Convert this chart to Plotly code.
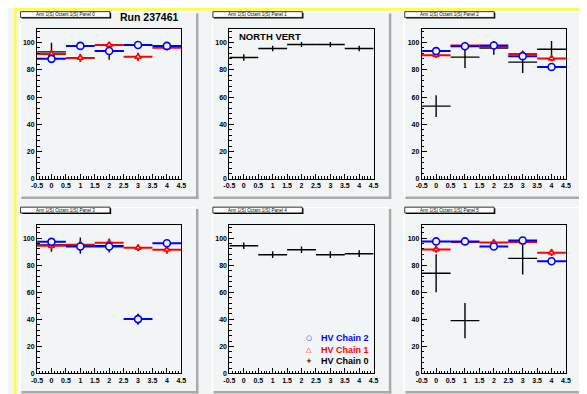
import plotly.graph_objects as go

# ---------------- data ----------------
bins = [0, 1, 2, 3, 4]
x_tickvals = [-0.5, 0, 0.5, 1, 1.5, 2, 2.5, 3, 3.5, 4, 4.5]
x_ticktext = ["-0.5", "0", "0.5", "1", "1.5", "2", "2.5", "3", "3.5", "4", "4.5"]
y_tickvals = [0, 20, 40, 60, 80, 100]
y_range = [0, 110]
x_range = [-0.5, 4.5]

panel_titles = ["Arm 1(S) Octant 1(S) Panel 0", "Arm 1(S) Octant 1(S) Panel 1",
                "Arm 1(S) Octant 1(S) Panel 2", "Arm 1(S) Octant 1(S) Panel 3",
                "Arm 1(S) Octant 1(S) Panel 4", "Arm 1(S) Octant 1(S) Panel 5"]
series_names = ["HV Chain 2", "HV Chain 1", "HV Chain 0"]
run_label = "Run 237461"
north_label = "NORTH VERT"

# HV Chain 0 (black), per panel
chain0_values = [
    [93.1, None, 93.8, None, None],
    [89.0, 95.6, 98.5, 98.5, 95.6],
    [53.4, 89.3, 96.0, 85.6, 95.1],
    [95.0, 94.5, 94.5, None, None],
    [94.4, 87.8, 91.5, 87.8, 88.5],
    [74.1, 39.1, None, 85.1, None],
]
chain0_errors = [
    [6.7, 0, 6.5, 0, 0],
    [2.3, 2.0, 1.8, 1.8, 2.0],
    [8.0, 8.0, 5.0, 8.0, 6.0],
    [5.0, 6.0, 5.0, 0, 0],
    [2.4, 2.5, 2.4, 2.5, 2.5],
    [14.0, 13.0, 0, 12.0, 0],
]
# HV Chain 1 (red)
chain1_values = [
    [91.6, 88.7, 98.2, 89.5, 96.2],
    None,
    [90.7, 97.8, 96.8, 91.5, 88.3],
    [94.4, 95.1, 96.6, 92.9, 91.5],
    None,
    [91.7, 97.1, 96.8, 97.1, 89.3],
]
chain1_errors = [
    [3.0, 3.0, 2.0, 3.0, 2.0],
    None,
    [2.0, 2.0, 2.0, 2.0, 2.0],
    [3.0, 3.0, 3.0, 2.5, 3.0],
    None,
    [2.5, 2.0, 2.0, 2.0, 2.5],
]
# HV Chain 2 (blue)
chain2_values = [
    [88.0, 97.5, 93.8, 98.2, 97.5],
    None,
    [93.7, 97.3, 97.8, 90.0, 82.0],
    [97.3, 93.9, 93.9, 40.2, 96.3],
    None,
    [97.6, 97.6, 93.9, 98.3, 82.9],
]
chain2_errors = [
    [3.0, 1.2, 3.0, 1.2, 2.0],
    None,
    [2.0, 2.0, 2.0, 2.0, 2.5],
    [2.0, 3.0, 3.0, 4.0, 2.0],
    None,
    [1.5, 1.5, 2.0, 1.5, 2.5],
]

# ---------------- style / layout ----------------
W, H = 587, 394
BG = "#f2f5f5"
FONT = "Liberation Sans, Arial, sans-serif"
col_x = [(23.5, 170.5), (219.5, 366.5), (415.5, 562.5)]
row_y = [(21.0, 172.3), (218.3, 368.3)]
pad_x = [(5.5, 188.0), (201.5, 384.5), (397.0, 580.5)]
pad_y = [(3.5, 192.5), (200.5, 388.5)]


def px(x):
    return x / W


def py(y):
    return 1 - y / H


half = (bins[1] - bins[0]) / 2.0

fig = go.Figure()
shapes = []
annotations = []


def rect(x0, y0, x1, y1, fill, line=None, lw=0):
    d = dict(type="rect", xref="paper", yref="paper", x0=px(x0), x1=px(x1),
             y0=py(y1), y1=py(y0), fillcolor=fill, layer="below",
             line=dict(width=lw, color=line or fill))
    shapes.append(d)


# canvas border
rect(0, 0, W, 2.5, "#ffff40")
rect(0, 0, 2.5, H, "#ffff40")
rect(0, H - 3, W, H, "#b4b400")
rect(W - 2.5, 2.5, W, H, "#b4b400")

for i in range(6):
    r, c = divmod(i, 3)
    ax = "" if i == 0 else str(i + 1)
    x0, x1 = pad_x[c]
    y0, y1 = pad_y[r]
    # pad bevel
    rect(x0, y0, x1 - 2, y0 + 1.3, "white")
    rect(x0, y0, x0 + 1.3, y1 - 2, "white")
    rect(x1 - 2.5, y0 + 2, x1, y1, "#a9a9a9")
    rect(x0 + 2, y1 - 2.5, x1, y1, "#a9a9a9")
    # title box with shadow
    shapes.append(dict(type="rect", xref="paper", yref="paper",
                       x0=px(x0 + 2.5), x1=px(x0 + 93.5), y0=py(y0 + 7.2), y1=py(y0 + 1.2),
                       fillcolor="black", line=dict(width=0), layer="above"))
    shapes.append(dict(type="rect", xref="paper", yref="paper",
                       x0=px(x0 + 1.2), x1=px(x0 + 92.3), y0=py(y0 + 6.0), y1=py(y0 + 0.2),
                       fillcolor="white", line=dict(width=0.8, color="black"), layer="above"))
    annotations.append(dict(xref="paper", yref="paper", x=px(x0 + 46.7), y=py(y0 + 3.2),
                            text=panel_titles[i], showarrow=False,
                            font=dict(family=FONT, size=4.5, color="black"),
                            xanchor="center", yanchor="middle"))

    groups = [
        (chain0_values[i], chain0_errors[i], "black", dict(size=1, color="black"), 1.4),
        (chain1_values[i], chain1_errors[i], "#ff0000",
         dict(symbol="triangle-up", size=5.5, color=BG, line=dict(color="#ff0000", width=1.6)), 2),
        (chain2_values[i], chain2_errors[i], "#0000ff",
         dict(symbol="circle", size=7, color=BG, line=dict(color="#0000ff", width=1.6)), 2),
    ]
    for vals, errs, color, marker, th in groups:
        if vals is None:
            continue
        fig.add_trace(go.Scatter(
            x=bins, y=vals, xaxis="x" + ax, yaxis="y" + ax, mode="markers",
            marker=marker, showlegend=False, hoverinfo="skip",
            error_x=dict(type="data", array=[half] * len(bins), color=color,
                         thickness=th, width=0),
            error_y=dict(type="data", array=errs, color=color, thickness=th, width=0),
        ))

    cx0, cx1 = col_x[c]
    ry0, ry1 = row_y[r]
    fig.layout["xaxis" + ax] = dict(
        domain=[px(cx0), px(cx1)], range=x_range, anchor="y" + ax,
        tickvals=x_tickvals, ticktext=x_ticktext, ticks="inside", ticklen=5,
        tickcolor="black", showgrid=False, zeroline=False, showline=True,
        linecolor="black", linewidth=1, mirror=True,
        tickfont=dict(family=FONT, size=7, color="black", weight="bold"),
        minor=dict(dtick=0.1, tick0=-0.5, ticks="inside", ticklen=2.5, tickcolor="black"),
        fixedrange=True,
    )
    fig.layout["yaxis" + ax] = dict(
        domain=[py(ry1), py(ry0)], range=y_range, anchor="x" + ax,
        tickvals=y_tickvals, ticks="inside", ticklen=5, tickcolor="black",
        showgrid=False, zeroline=False, showline=True, linecolor="black",
        linewidth=1, mirror=True,
        tickfont=dict(family=FONT, size=7, color="black", weight="bold"),
        minor=dict(dtick=4, tick0=0, ticks="inside", ticklen=2.5, tickcolor="black"),
        fixedrange=True,
    )

# text labels
annotations.append(dict(xref="paper", yref="paper", x=px(106), y=py(9),
                        text="<b>" + run_label + "</b>", showarrow=False,
                        font=dict(family=FONT, size=10.5, color="black"),
                        xanchor="left", yanchor="middle"))
annotations.append(dict(xref="paper", yref="paper", x=px(227), y=py(28.5),
                        text="<b>" + north_label + "</b>", showarrow=False,
                        font=dict(family=FONT, size=9.5, color="black"),
                        xanchor="left", yanchor="middle"))

# legend (inside panel 4)
leg_colors = ["#0000ff", "#ff0000", "black"]
leg_symbols = ["○", "△", "+"]
leg_rows = [332.7, 344.2, 355.7]
for name, col, sym, yy in zip(series_names, leg_colors, leg_symbols, leg_rows):
    annotations.append(dict(xref="paper", yref="paper", x=px(301), y=py(yy),
                            text="<b>" + sym + "</b>", showarrow=False,
                            font=dict(family="DejaVu Sans", size=7, color=col),
                            xanchor="center", yanchor="middle"))
    annotations.append(dict(xref="paper", yref="paper", x=px(310.5), y=py(yy),
                            text="<b>" + name + "</b>", showarrow=False,
                            font=dict(family=FONT, size=9, color=col),
                            xanchor="left", yanchor="middle"))

fig.update_layout(
    width=W, height=H, margin=dict(l=0, r=0, t=0, b=0, pad=0),
    paper_bgcolor=BG, plot_bgcolor=BG, showlegend=False,
    shapes=shapes, annotations=annotations,
)

fig.write_html("out.html")
